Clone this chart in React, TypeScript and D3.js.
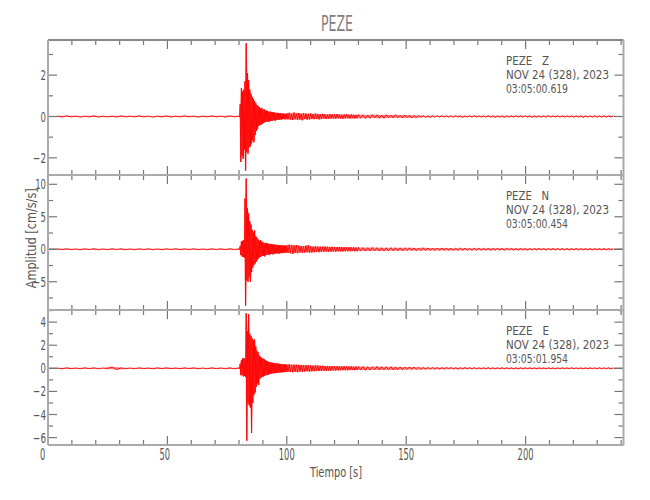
import React from 'react';
import * as d3 from 'd3';

const FONT = "'Liberation Sans Narrow', 'DejaVu Sans Condensed', 'Arial Narrow', sans-serif";

// Time axis (seconds)
const xDomain = [0, 241];
const xMajorTicks = [0, 50, 100, 150, 200];
const xMinorTicks = [10, 20, 30, 40, 60, 70, 80, 90, 110, 120, 130, 140, 160, 170, 180, 190, 210, 220, 230, 240];
const xTickLabels = ['0', '50', '100', '150', '200'];

// Sampling grid of the hand-read traces (start time, step in s)
const gridPre = { start: 4, step: 1.9 };
const gridEvent = { start: 80, step: 0.25 };
const gridCodaA = { start: 100, step: 0.5 };
const gridCodaB = { start: 130, step: 0.97 };
const traceSpan = [4, 237];

// ---------- Z component ----------
const zPre = [0.02, -0.02, 0.03, -0.02, 0.02, -0.03, 0.02, -0.02, 0.03, -0.03, 0.02, -0.02, 0.02, -0.03, 0.03, -0.02, 0.02, -0.02, 0.03, -0.02, 0.02, -0.03, 0.02, -0.02, 0.03, -0.03, 0.02, -0.02, 0.03, -0.02, 0.02, -0.03, 0.02, -0.02, 0.03, -0.02, 0.02, -0.03, 0.03, -0.02];
const zEvent = [0.02, -0.03, 0.6, -2.2, 1.38, -1.9, 1.2, -2.05, 1.3, -1.6, 1.7, -2.62,
  3.54, -1.7, 2.1, -1.8, 1.75, -1.5, 1.3, -1.45, 1.1, -1.3, 0.95, -1.15, 0.85, -1.25, 0.75, -0.9,
  0.65, -0.7, 0.55, -0.6, 0.5, -0.45, 0.45, -0.42, 0.38, -0.4, 0.42, -0.35, 0.33, -0.3, 0.35, -0.28,
  0.3, -0.27, 0.28, -0.25, 0.27, -0.24, 0.22, -0.26, 0.24, -0.2, 0.21, -0.22, 0.2, -0.19, 0.22, -0.18,
  0.18, -0.2, 0.17, -0.16, 0.18, -0.15, 0.16, -0.17, 0.15, -0.14, 0.16, -0.15, 0.14, -0.13, 0.15, -0.12,
  0.13, -0.14, 0.12, -0.13];
const zCodaA = [0.16, -0.14, 0.18, -0.15, 0.14, -0.17, 0.19, -0.13, 0.15, -0.16,
  0.17, -0.15, 0.13, -0.18, 0.16, -0.12, 0.14, -0.15, 0.13, -0.14,
  0.15, -0.12, 0.12, -0.13, 0.14, -0.11, 0.12, -0.14, 0.11, -0.12,
  0.13, -0.1, 0.11, -0.12, 0.1, -0.11, 0.12, -0.1, 0.11, -0.1,
  0.1, -0.11, 0.12, -0.09, 0.1, -0.1, 0.09, -0.11, 0.1, -0.09,
  0.11, -0.09, 0.09, -0.1, 0.1, -0.08, 0.09, -0.1, 0.08, -0.09];
const zCodaB = [0.09, -0.08, 0.08, -0.09, 0.07, -0.08, 0.09, -0.07, 0.08, -0.08,
  0.07, -0.08, 0.08, -0.06, 0.07, -0.07, 0.08, -0.06, 0.06, -0.07,
  0.07, -0.06, 0.06, -0.07, 0.05, -0.06, 0.05, -0.04, 0.04, -0.04,
  0.03, -0.04, 0.04, -0.03, 0.03, -0.03, 0.04, -0.03, 0.03, -0.03,
  0.03, -0.03, 0.04, -0.03, 0.03, -0.04, 0.03, -0.03, 0.03, -0.03,
  0.04, -0.03, 0.03, -0.03, 0.03, -0.03, 0.04, -0.03, 0.03, -0.04,
  0.03, -0.03, 0.03, -0.04, 0.03, -0.03, 0.03, -0.03, 0.04, -0.03,
  0.03, -0.03, 0.03, -0.03, 0.03, -0.04, 0.03, -0.03, 0.03, -0.03,
  0.03, -0.03, 0.04, -0.03, 0.03, -0.03, 0.03, -0.03, 0.03, -0.03,
  0.03, -0.03, 0.03, -0.03, 0.03, -0.03, 0.03, -0.04, 0.03, -0.03,
  0.03, -0.03, 0.03, -0.03, 0.03, -0.03, 0.03, -0.03, 0.03, -0.03, 0.03];

// ---------- N component ----------
const nPre = [0.06, -0.05, 0.07, -0.06, 0.05, -0.07, 0.06, -0.05, 0.08, -0.06, 0.05, -0.06, 0.07, -0.05, 0.06, -0.07, 0.05, -0.06, 0.06, -0.05, 0.07, -0.06, 0.05, -0.07, 0.06, -0.05, 0.08, -0.06, 0.06, -0.05, 0.07, -0.06, 0.05, -0.06, 0.07, -0.05, 0.06, -0.07, 0.08, -0.06];
const nEvent = [0.06, -0.08, 0.5, -0.9, 1.2, -1.1, 1.3, -1.2, 1.4, -1.3, 7.8, -8.7,
  10.9, -4.8, 6.3, -5.0, 5.5, -4.2, 4.3, -5.0, 3.8, -3.5, 3.0, -2.8, 2.6, -2.4, 2.9, -2.2,
  2.0, -1.9, 1.8, -1.6, 1.5, -1.4, 1.3, -1.2, 1.4, -1.1, 1.2, -1.0, 1.1, -1.0, 0.9, -1.1,
  1.0, -0.9, 0.95, -0.85, 0.9, -0.8, 0.85, -0.9, 0.8, -0.75, 0.8, -0.7, 0.75, -0.8, 0.7, -0.65,
  0.75, -0.7, 0.65, -0.6, 0.7, -0.65, 0.6, -0.7, 0.65, -0.6, 0.6, -0.55, 0.6, -0.6, 0.55, -0.5,
  0.6, -0.55, 0.5, -0.55];
const nCodaA = [0.6, -0.55, 0.7, -0.6, 0.65, -0.7, 0.6, -0.55, 0.65, -0.6,
  0.55, -0.5, 0.5, -0.55, 0.45, -0.5, 0.55, -0.45, 0.6, -0.5,
  0.45, -0.5, 0.4, -0.45, 0.45, -0.4, 0.42, -0.45, 0.4, -0.38,
  0.4, -0.38, 0.42, -0.36, 0.38, -0.4, 0.36, -0.35, 0.38, -0.36,
  0.35, -0.36, 0.34, -0.32, 0.36, -0.33, 0.32, -0.34, 0.33, -0.3,
  0.32, -0.3, 0.3, -0.31, 0.32, -0.28, 0.3, -0.3, 0.28, -0.29];
const nCodaB = [0.28, -0.27, 0.26, -0.28, 0.25, -0.26, 0.27, -0.24, 0.25, -0.26,
  0.24, -0.25, 0.23, -0.24, 0.25, -0.22, 0.23, -0.24, 0.22, -0.23,
  0.22, -0.21, 0.23, -0.2, 0.21, -0.22, 0.2, -0.21, 0.22, -0.19,
  0.2, -0.19, 0.18, -0.2, 0.19, -0.18, 0.2, -0.17, 0.18, -0.19,
  0.17, -0.18, 0.16, -0.17, 0.18, -0.16, 0.17, -0.16, 0.15, -0.17,
  0.16, -0.15, 0.17, -0.16, 0.15, -0.16, 0.14, -0.15, 0.16, -0.14,
  0.15, -0.14, 0.13, -0.15, 0.14, -0.13, 0.15, -0.14, 0.13, -0.14,
  0.14, -0.13, 0.12, -0.14, 0.13, -0.12, 0.13, -0.12, 0.14, -0.12,
  0.12, -0.13, 0.12, -0.11, 0.13, -0.12, 0.11, -0.12, 0.12, -0.11,
  0.11, -0.12, 0.1, -0.11, 0.12, -0.1, 0.11, -0.11, 0.1, -0.11,
  0.1, -0.11, 0.1, -0.1, 0.11, -0.1, 0.1, -0.09, 0.1, -0.1, 0.09];

// ---------- E component ----------
const ePre = [0.03, -0.04, 0.04, -0.03, 0.03, -0.04, 0.04, -0.03, 0.04, -0.04, 0.03, -0.04, 0.12, -0.1, 0.04, -0.03, 0.03, -0.04, 0.04, -0.03, 0.03, -0.04, 0.04, -0.03, 0.04, -0.03, 0.03, -0.04, 0.04, -0.03, 0.04, -0.04, 0.03, -0.04, 0.04, -0.03, 0.03, -0.04, 0.04, -0.05];
const eEvent = [0.04, -0.05, 0.4, -0.6, 0.7, -0.55, 0.85, -0.7, 0.9, -0.65, 0.8, -0.75,
  4.76, -6.27, 3.2, -3.0, 4.7, -3.2, 3.0, -3.4, 2.8, -5.6, 2.6, -3.0, 2.4, -2.3, 2.5, -2.1,
  1.9, -1.6, 1.5, -1.3, 1.4, -1.45, 1.1, -0.9, 1.0, -0.8, 0.9, -0.75, 0.85, -0.7, 0.8, -0.65,
  0.7, -0.6, 0.65, -0.55, 0.6, -0.58, 0.55, -0.5, 0.52, -0.48, 0.5, -0.45, 0.48, -0.44, 0.46, -0.42,
  0.45, -0.4, 0.42, -0.4, 0.4, -0.38, 0.42, -0.37, 0.38, -0.36, 0.37, -0.35, 0.36, -0.34, 0.35, -0.33,
  0.34, -0.32, 0.33, -0.32];
const eCodaA = [0.33, -0.3, 0.35, -0.32, 0.3, -0.34, 0.32, -0.3, 0.31, -0.33,
  0.3, -0.28, 0.29, -0.3, 0.27, -0.28, 0.28, -0.26, 0.27, -0.28,
  0.25, -0.26, 0.24, -0.25, 0.26, -0.23, 0.24, -0.24, 0.22, -0.23,
  0.22, -0.21, 0.2, -0.22, 0.21, -0.2, 0.19, -0.2, 0.2, -0.18,
  0.18, -0.19, 0.17, -0.18, 0.19, -0.17, 0.18, -0.16, 0.17, -0.17,
  0.16, -0.17, 0.16, -0.15, 0.17, -0.15, 0.15, -0.16, 0.15, -0.14];
const eCodaB = [0.15, -0.14, 0.15, -0.16, 0.14, -0.15, 0.14, -0.13, 0.15, -0.14,
  0.14, -0.13, 0.14, -0.12, 0.13, -0.14, 0.12, -0.13, 0.12, -0.12,
  0.12, -0.11, 0.12, -0.1, 0.11, -0.1, 0.09, -0.1, 0.08, -0.09,
  0.08, -0.07, 0.08, -0.07, 0.07, -0.08, 0.07, -0.07, 0.07, -0.06,
  0.07, -0.06, 0.06, -0.07, 0.06, -0.06, 0.07, -0.06, 0.06, -0.06,
  0.06, -0.06, 0.05, -0.06, 0.06, -0.05, 0.06, -0.05, 0.05, -0.06,
  0.05, -0.05, 0.06, -0.05, 0.05, -0.05, 0.05, -0.06, 0.05, -0.05,
  0.05, -0.05, 0.05, -0.04, 0.05, -0.05, 0.04, -0.05, 0.05, -0.04,
  0.04, -0.05, 0.05, -0.04, 0.04, -0.05, 0.04, -0.04, 0.05, -0.04,
  0.04, -0.04, 0.05, -0.04, 0.04, -0.04, 0.04, -0.05, 0.04, -0.04,
  0.04, -0.04, 0.04, -0.04, 0.05, -0.04, 0.04, -0.04, 0.04, -0.04, 0.04];

// Panel y domains and ticks
const zDomain = [-2.83, 3.7];
const zMajor = [-2, 0, 2];
const zMinor = [-1, 1, 3];
const nDomain = [-9.35, 11.43];
const nMajor = [-5, 0, 5, 10];
const nMinor = [-7.5, -2.5, 2.5, 7.5];
const eDomain = [-6.64, 5.05];
const eMajor = [-6, -4, -2, 0, 2, 4];
const eMinor = [-5, -3, -1, 1, 3, 5];

const componentNames = ['Z', 'N', 'E'];
const dateLabel = 'NOV 24 (328), 2023';
const startTimes = ['03:05:00.619', '03:05:00.454', '03:05:01.954'];

type Seg = { start: number; step: number };
type Pt = { t: number; v: number; hi: number; lo: number };
function toPoints(parts: [Seg, number[]][]): Pt[] {
  const raw: { t: number; v: number }[] = [];
  parts.forEach(([g, vals]) => vals.forEach((v, i) => raw.push({ t: g.start + i * g.step, v })));
  // local envelope (max / min of each sample and its neighbours)
  return raw.map((p, i) => {
    const nb = [raw[i - 1], p, raw[i + 1]].filter(Boolean).map(d => d!.v);
    return { ...p, hi: Math.max(0, ...nb), lo: Math.min(0, ...nb) };
  });
}

export default function App() {
  const left = 48, right = 623.5, top0 = 40, ph = 135;
  const x = d3.scaleLinear().domain(xDomain).range([left, right]);

  const panels = [
    { domain: zDomain, major: zMajor, minor: zMinor, pts: toPoints([[gridPre, zPre], [gridEvent, zEvent], [gridCodaA, zCodaA], [gridCodaB, zCodaB]]) },
    { domain: nDomain, major: nMajor, minor: nMinor, pts: toPoints([[gridPre, nPre], [gridEvent, nEvent], [gridCodaA, nCodaA], [gridCodaB, nCodaB]]) },
    { domain: eDomain, major: eMajor, minor: eMinor, pts: toPoints([[gridPre, ePre], [gridEvent, eEvent], [gridCodaA, eCodaA], [gridCodaB, eCodaB]]) },
  ];

  const frame = '#aaaaaa';
  const tickC = '#777777';
  const textC = '#555555';
  const yLabel = (v: number) => (v < 0 ? '\u2212' + Math.abs(v) : String(v));
  const yLabelLen = (v: number) => String(Math.abs(v)).length * 5.4 + (v < 0 ? 7.5 : 0);

  return (
    <svg width={650} height={500} style={{ position: 'absolute', left: 0, top: 0, background: '#fff' }} fontFamily={FONT}>
      <rect x={0} y={0} width={650} height={500} fill="#ffffff" />
      <text x={321} y={31} fontSize={22} fill="#808080" textLength={32} lengthAdjust="spacingAndGlyphs">PEZE</text>

      {panels.map((p, k) => {
        const top = top0 + k * ph;
        const bot = top + ph;
        const y = d3.scaleLinear().domain(p.domain).range([bot, top]);
        const line = d3.line<Pt>().x(d => x(d.t)).y(d => y(d.v));
        const band = d3.area<Pt>().x(d => x(d.t)).y0(d => y(d.lo)).y1(d => y(d.hi));
        return (
          <g key={k}>
            <clipPath id={`clip${k}`}>
              <rect x={left} y={top} width={right - left} height={ph} />
            </clipPath>
            <g clipPath={`url(#clip${k})`}>
              <line x1={x(xDomain[0])} x2={x(traceSpan[0])} y1={y(0)} y2={y(0)} stroke="#330000" strokeWidth={1} />
              <line x1={x(traceSpan[1])} x2={x(xDomain[1])} y1={y(0)} y2={y(0)} stroke="#330000" strokeWidth={1} />
              <path d={band(p.pts) || ''} fill="#ff0000" fillOpacity={0.45} stroke="none" />
              <path d={line(p.pts) || ''} fill="none" stroke="#ff0000" strokeWidth={0.9} />
            </g>
            {xMajorTicks.map(t => (
              <g key={'xm' + t}>
                <line x1={x(t)} x2={x(t)} y1={top} y2={top + 9} stroke={tickC} strokeWidth={1.2} />
                <line x1={x(t)} x2={x(t)} y1={bot} y2={bot - 9} stroke={tickC} strokeWidth={1.2} />
              </g>
            ))}
            {xMinorTicks.map(t => (
              <g key={'xn' + t}>
                <line x1={x(t)} x2={x(t)} y1={top} y2={top + 5} stroke={tickC} strokeWidth={1.2} />
                <line x1={x(t)} x2={x(t)} y1={bot} y2={bot - 5} stroke={tickC} strokeWidth={1.2} />
              </g>
            ))}
            {p.major.map(v => (
              <g key={'ym' + v}>
                <line x1={left} x2={left + 9} y1={y(v)} y2={y(v)} stroke={tickC} strokeWidth={1.2} />
                <line x1={right} x2={right - 9} y1={y(v)} y2={y(v)} stroke={tickC} strokeWidth={1.2} />
                <text x={46 - yLabelLen(v)} y={y(v)} dy="0.36em" fontSize={14} fill={textC} textLength={yLabelLen(v)} lengthAdjust="spacingAndGlyphs">{yLabel(v)}</text>
              </g>
            ))}
            {p.minor.map(v => (
              <g key={'yn' + v}>
                <line x1={left} x2={left + 5} y1={y(v)} y2={y(v)} stroke={tickC} strokeWidth={1.2} />
                <line x1={right} x2={right - 5} y1={y(v)} y2={y(v)} stroke={tickC} strokeWidth={1.2} />
              </g>
            ))}
            <line x1={left} x2={right} y1={top} y2={top} stroke={k === 0 ? '#888888' : frame} strokeWidth={2} />
            <line x1={left} x2={right} y1={bot} y2={bot} stroke={frame} strokeWidth={2} />
            <line x1={left} x2={left} y1={top} y2={bot} stroke={frame} strokeWidth={2} />
            <line x1={right} x2={right} y1={top} y2={bot} stroke={frame} strokeWidth={2} />
            <text x={506} y={top + 25} fontSize={12} fill={textC} style={{ whiteSpace: 'pre' }} textLength={43} lengthAdjust="spacingAndGlyphs">{'PEZE   ' + componentNames[k]}</text>
            <text x={506} y={top + 39} fontSize={12} fill={textC} textLength={103} lengthAdjust="spacingAndGlyphs">{dateLabel}</text>
            <text x={506} y={top + 53} fontSize={12} fill={textC} textLength={62} lengthAdjust="spacingAndGlyphs">{startTimes[k]}</text>
          </g>
        );
      })}

      {xMajorTicks.map((t, i) => (
        <text key={'xl' + t} x={x(t) - 8} y={459.5} fontSize={15} fill={textC} textLength={xTickLabels[i].length * 5.3} lengthAdjust="spacingAndGlyphs">{xTickLabels[i]}</text>
      ))}
      <text x={310} y={476.5} fontSize={14.5} fill={textC} textLength={52} lengthAdjust="spacingAndGlyphs">Tiempo [s]</text>
      <text transform={`translate(35.5,288.3) rotate(-90)`} fontSize={14.5} fill={textC} textLength={100} lengthAdjust="spacingAndGlyphs">Amplitud [cm/s/s]</text>
    </svg>
  );
}
